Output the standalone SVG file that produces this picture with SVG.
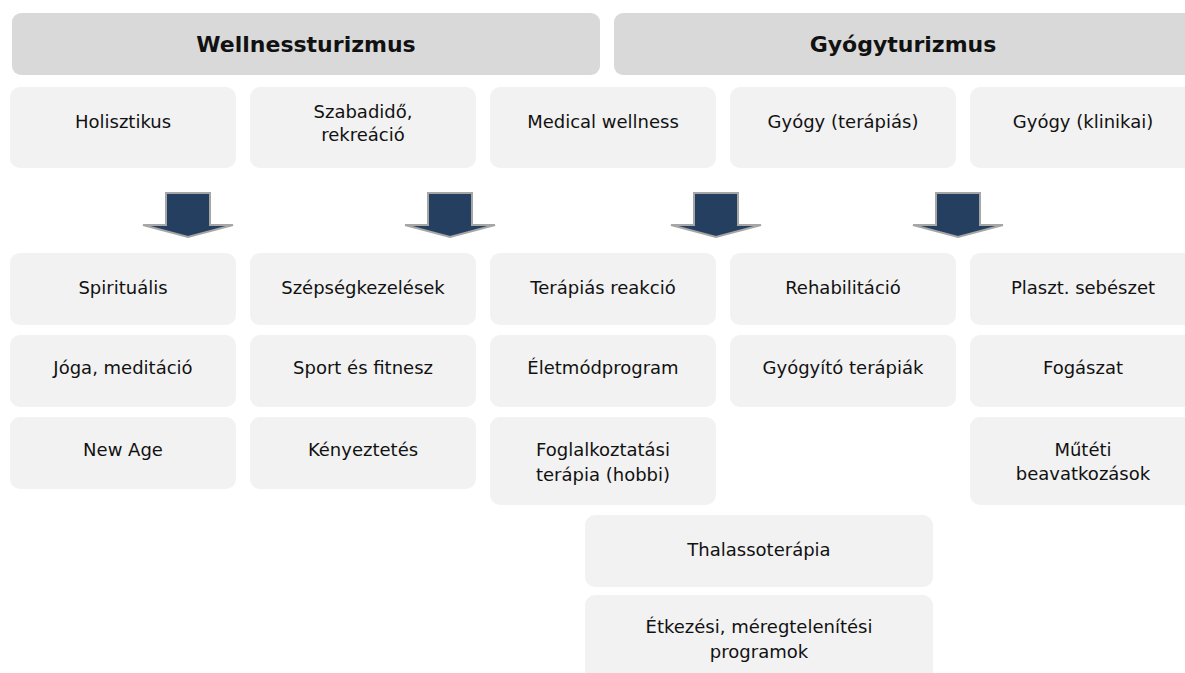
<svg xmlns="http://www.w3.org/2000/svg" width="1185" height="673" viewBox="0 0 1185 673">
<style>
.hdr{fill:#D9D9D9}
.box{fill:#F2F2F2}
.ht{font-family:"DejaVu Sans",sans-serif;font-weight:bold;font-size:22px;fill:#111111;text-anchor:middle}
.t{font-family:"DejaVu Sans",sans-serif;font-size:18px;fill:#111111;text-anchor:middle}
.arr{fill:#243F60;stroke:#A6A6A6;stroke-width:2;stroke-linejoin:miter}
</style>
<rect width="1185" height="673" fill="#FFFFFF"/>
<g id="hdr-wellness"><rect class="hdr" x="12" y="13" width="588" height="62" rx="9"/><text class="ht" x="306" y="52">Wellnessturizmus</text></g>
<g id="hdr-gyogy"><rect class="hdr" x="614" y="13" width="590" height="62" rx="9"/><text class="ht" x="903" y="52">Gyógyturizmus</text></g>

<g id="n-holisztikus"><rect class="box" x="10" y="87" width="226" height="81" rx="10"/><text class="t" x="123" y="128">Holisztikus</text></g>
<g id="n-szabadido"><rect class="box" x="250" y="87" width="226" height="81" rx="10"/><text class="t" x="363" y="118">Szabadidő,</text><text class="t" x="363" y="141">rekreáció</text></g>
<g id="n-medical"><rect class="box" x="490" y="87" width="226" height="81" rx="10"/><text class="t" x="603" y="128">Medical wellness</text></g>
<g id="n-terapias"><rect class="box" x="730" y="87" width="226" height="81" rx="10"/><text class="t" x="843" y="128">Gyógy (terápiás)</text></g>
<g id="n-klinikai"><rect class="box" x="970" y="87" width="226" height="81" rx="10"/><text class="t" x="1083" y="128">Gyógy (klinikai)</text></g>

<g id="connectors">
<polygon class="arr" points="166,193 210,193 210,225 233,225 188,237 143,225 166,225"/>
<polygon class="arr" points="428,193 472,193 472,225 495,225 450,237 405,225 428,225"/>
<polygon class="arr" points="694,193 738,193 738,225 761,225 716,237 671,225 694,225"/>
<polygon class="arr" points="936,193 980,193 980,225 1003,225 958,237 913,225 936,225"/>
</g>

<g id="n-spiritualis"><rect class="box" x="10" y="253" width="226" height="72" rx="10"/><text class="t" x="123" y="294">Spirituális</text></g>
<g id="n-szepseg"><rect class="box" x="250" y="253" width="226" height="72" rx="10"/><text class="t" x="363" y="294">Szépségkezelések</text></g>
<g id="n-reakcio"><rect class="box" x="490" y="253" width="226" height="72" rx="10"/><text class="t" x="603" y="294">Terápiás reakció</text></g>
<g id="n-rehab"><rect class="box" x="730" y="253" width="226" height="72" rx="10"/><text class="t" x="843" y="294">Rehabilitáció</text></g>
<g id="n-plaszt"><rect class="box" x="970" y="253" width="226" height="72" rx="10"/><text class="t" x="1083" y="294">Plaszt. sebészet</text></g>

<g id="n-joga"><rect class="box" x="10" y="335" width="226" height="72" rx="10"/><text class="t" x="123" y="374">Jóga, meditáció</text></g>
<g id="n-sport"><rect class="box" x="250" y="335" width="226" height="72" rx="10"/><text class="t" x="363" y="374">Sport és fitnesz</text></g>
<g id="n-eletmod"><rect class="box" x="490" y="335" width="226" height="72" rx="10"/><text class="t" x="603" y="374">Életmódprogram</text></g>
<g id="n-gyogyito"><rect class="box" x="730" y="335" width="226" height="72" rx="10"/><text class="t" x="843" y="374">Gyógyító terápiák</text></g>
<g id="n-fogaszat"><rect class="box" x="970" y="335" width="226" height="72" rx="10"/><text class="t" x="1083" y="374">Fogászat</text></g>

<g id="n-newage"><rect class="box" x="10" y="417" width="226" height="72" rx="10"/><text class="t" x="123" y="456">New Age</text></g>
<g id="n-kenyeztetes"><rect class="box" x="250" y="417" width="226" height="72" rx="10"/><text class="t" x="363" y="456">Kényeztetés</text></g>
<g id="n-foglalkoztatasi"><rect class="box" x="490" y="417" width="226" height="88" rx="10"/><text class="t" x="603" y="456">Foglalkoztatási</text><text class="t" x="603" y="481">terápia (hobbi)</text></g>
<g id="n-mutet"><rect class="box" x="970" y="417" width="226" height="88" rx="10"/><text class="t" x="1083" y="456">Műtéti</text><text class="t" x="1083" y="480">beavatkozások</text></g>

<g id="n-thalasso"><rect class="box" x="585" y="515" width="348" height="72" rx="10"/><text class="t" x="759" y="556">Thalassoterápia</text></g>
<g id="n-etkezesi"><rect class="box" x="585" y="595" width="348" height="90" rx="10"/><text class="t" x="759" y="633">Étkezési, méregtelenítési</text><text class="t" x="759" y="658">programok</text></g>
</svg>
